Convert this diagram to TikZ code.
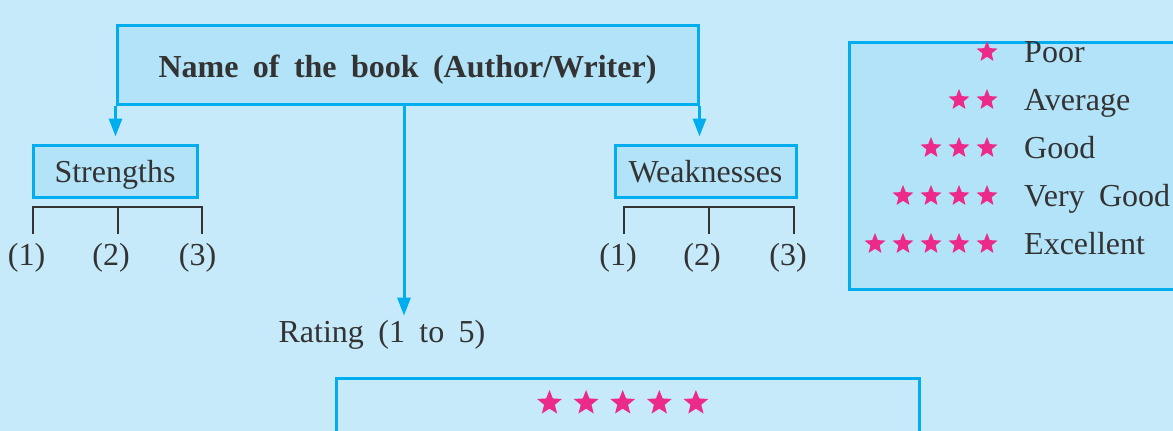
\documentclass[tikz,border=0pt]{standalone}
\usepackage{fontspec}
\setmainfont[WordSpace=1.8]{Liberation Serif}
\usetikzlibrary{arrows.meta,shapes.geometric}
\definecolor{bg}{HTML}{C6EAFA}
\definecolor{boxfill}{HTML}{B3E3F8}
\definecolor{cyanline}{HTML}{00AEEF}
\definecolor{txt}{HTML}{333333}
\definecolor{starpink}{HTML}{EC2A8A}
\newcommand\myfs{\fontsize{32}{38}\selectfont}
\begin{document}
\begin{tikzpicture}[x=1pt,y=-1pt,
  every node/.style={text=txt, font=\myfs},
  boxst/.style={draw=cyanline, line width=3pt, fill=boxfill, inner sep=0pt},
  arr/.style={draw=cyanline, line width=3pt, -{Triangle[length=18pt,width=13pt]}},
  brk/.style={draw=txt, line width=2.6pt},
  lstar/.style={star, star points=5, star point ratio=2.3, fill=starpink, draw=none, inner sep=0pt, minimum size=22pt},
  bstar/.style={lstar, minimum size=26pt}]
\fill[bg] (0,0) rectangle (1173,431);
\useasboundingbox (0,0) rectangle (1173,431);

% title
\node[boxst, minimum width=581pt, minimum height=79pt, text height=32pt, text depth=6pt, font=\myfs\bfseries] (title) at (407.5,64.5) {Name of the book (Author/Writer)};

% strengths / weaknesses
\node[boxst, minimum width=164pt, minimum height=52pt, text height=28pt, text depth=6pt] (str) at (115,171) {Strengths};
\node[boxst, minimum width=181pt, minimum height=52pt, text height=28pt, text depth=6pt] (weak) at (705.5,171) {Weaknesses};

% arrows
\draw[arr, shorten >=7pt] (title.south west) -- (title.south west |- str.north);
\draw[arr, shorten >=7pt] (title.south east) -- (title.south east |- weak.north);
\node[anchor=base, inner sep=0pt] (rating) at (382,342) {Rating (1 to 5)};
\coordinate (midtop) at (404,104);
\draw[arr, shorten >=4pt] (midtop) -- (midtop |- rating.north);

% brackets
\coordinate (sa) at (33,207); \coordinate (sb) at (118,207); \coordinate (sc) at (202,207);
\coordinate (wa) at (624,207); \coordinate (wb) at (709,207); \coordinate (wc) at (794,207);
\node[anchor=base, inner sep=0pt] (s1) at (26.5,265) {(1)};
\node[anchor=base, inner sep=0pt] (s2) at (111,265) {(2)};
\node[anchor=base, inner sep=0pt] (s3) at (197.5,265) {(3)};
\node[anchor=base, inner sep=0pt] (w1) at (618,265) {(1)};
\node[anchor=base, inner sep=0pt] (w2) at (702,265) {(2)};
\node[anchor=base, inner sep=0pt] (w3) at (788,265) {(3)};
\draw[brk] ([yshift=-27pt]sa) -- (sa) -- (sc) -- ([yshift=-27pt]sc);
\draw[brk] (sb) -- ([yshift=-27pt]sb);
\draw[brk] ([yshift=-27pt]wa) -- (wa) -- (wc) -- ([yshift=-27pt]wc);
\draw[brk] (wb) -- ([yshift=-27pt]wb);

% legend
\node[boxst, anchor=north west, minimum width=340pt, minimum height=247pt] (legend) at (848,41) {};
\foreach \n/\lab/\yb in {1/Poor/62, 2/Average/110, 3/Good/158, 4/Very Good/206, 5/Excellent/254}{
  \node[anchor=base west, inner sep=0pt] (leg\n) at (1024,\yb) {\lab};
  \foreach \k in {1,...,\n}{
    \node[lstar] (ls\n\k) at ({987-28*(\k-1)},{\yb-10}) {};
  }
}

% bottom box
\node[draw=cyanline, line width=3pt, anchor=north west, minimum width=583pt, minimum height=80pt, inner sep=0pt] (bottom) at (335,377) {};
\foreach \k in {0,...,4}{
  \node[bstar] (bs\k) at ({549.5+36.6*\k},403) {};
}
\end{tikzpicture}
\end{document}
